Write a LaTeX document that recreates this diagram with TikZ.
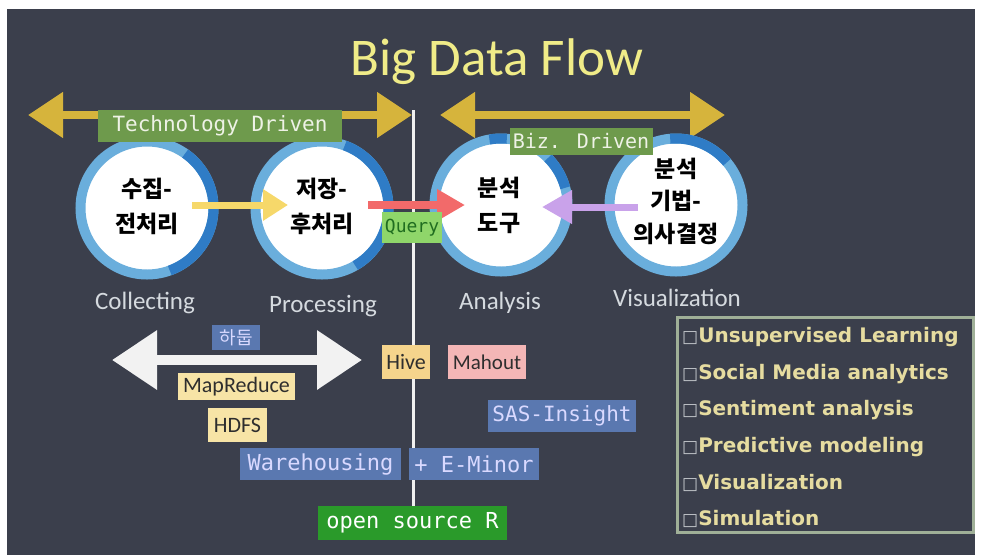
\documentclass[tikz,border=0pt]{standalone}
\usepackage{fontspec}
\setmainfont{Carlito}
\newfontfamily\krfont{Noto Sans CJK KR}
\newfontfamily\chalk{DejaVu Sans Mono}
\newfontfamily\listfont{DejaVu Sans}
\usetikzlibrary{arrows.meta,calc}
\definecolor{slate}{HTML}{3B3F4C}
\definecolor{gold}{HTML}{D6B43C}
\definecolor{tagGreen}{HTML}{6E9A4C}
\definecolor{ringLight}{HTML}{6AAEDC}
\definecolor{ringDark}{HTML}{2F7CC6}
\definecolor{titleYellow}{HTML}{F0EC88}
\definecolor{labelGrey}{HTML}{D5DADF}
\definecolor{queryGreen}{HTML}{8FD66A}
\definecolor{hiveYellow}{HTML}{F5D48C}
\definecolor{paleYellow}{HTML}{F7E4A6}
\definecolor{pinkBox}{HTML}{F4B6B6}
\definecolor{blueBox}{HTML}{5A78B0}
\definecolor{rGreen}{HTML}{2A9A2A}
\definecolor{listText}{HTML}{E6DCA0}
\definecolor{listBorder}{HTML}{A0B098}
\definecolor{bulletGrey}{HTML}{C4C8CC}
\definecolor{arrYellow}{HTML}{F6D86A}
\definecolor{arrRed}{HTML}{F26A6A}
\definecolor{arrPurple}{HTML}{C9A2EA}
\definecolor{chalkWhite}{HTML}{F2F2F2}
\definecolor{tagText}{HTML}{EEF2E6}
\definecolor{darkText}{HTML}{2E2E2E}
\tikzset{
  x=1pt, y=-1pt,
  goldarrow/.style={draw=gold, line width=8pt,
    arrows={Triangle[length=35pt,width=44pt]-Triangle[length=35pt,width=44pt]}},
  whitearrow/.style={draw=chalkWhite, line width=10pt,
    arrows={Triangle[length=45pt,width=57pt]-Triangle[length=45pt,width=57pt]}},
  flowarrow/.style={line width=7pt, arrows={-Triangle[length=28pt,width=30pt]}},
  disc/.style={circle, fill=white, minimum size=124pt, inner sep=0pt},
  ringbase/.style={draw=ringLight, line width=10pt},
  ringarc/.style={draw=ringDark, line width=10pt},
  krtext/.style={align=center, text=black, font=\krfont\bfseries\fontsize{23}{35}\selectfont},
  stagelabel/.style={anchor=base, text=labelGrey, font=\fontsize{25}{25}\selectfont},
  tagbox/.style={inner sep=0pt, anchor=center},
  chalktag/.style={tagbox, font=\chalk\fontsize{21}{21}\selectfont},
  sanstag/.style={tagbox, text=darkText, font=\fontsize{22}{22}\selectfont},
  listitem/.style={anchor=base west, inner sep=0pt, text=listText,
    font=\listfont\bfseries\fontsize{20}{20}\selectfont},
}
\newcommand{\bul}{{\mdseries\fontsize{17}{17}\selectfont\color{bulletGrey}□}}
\begin{document}
\begin{tikzpicture}
\useasboundingbox (0,0) rectangle (981,555);
\fill[white] (0,0) rectangle (981,555);
\fill[slate] (7,9) rectangle (975,555);

% title
\node[anchor=base, text=titleYellow, font=\fontsize{53}{53}\selectfont] (title) at (497,75) {Big Data Flow};

% divider
\coordinate (vtop) at (413,110);
\coordinate (vbot) at (413,506);
\draw[white!88!gray, line width=3pt] (vtop) -- (vbot);

% gold arrows
\coordinate (gl1) at (28,115);
\coordinate (gr1) at (412,115);
\draw[goldarrow] (gl1) -- (gr1);
\coordinate (gl2) at (440,115);
\coordinate (gr2) at (725,115);
\draw[goldarrow] (gl2) -- (gr2);

% circles
\node[disc] (c1) at (147,208) {};
\node[disc] (c2) at (322,208) {};
\node[disc] (c3) at (501,205) {};
\node[disc] (c4) at (676,205) {};
\draw[ringbase] (c1.center) circle[radius=66.5pt];
\draw[ringbase] (c2.center) circle[radius=66.5pt];
\draw[ringbase] (c3.center) circle[radius=66.5pt];
\draw[ringbase] (c4.center) circle[radius=66.5pt];
\draw[ringarc] (c1.center) ++(55:66.5pt) arc[start angle=55, end angle=-70, radius=66.5pt];
\draw[ringarc] (c2.center) ++(70:66.5pt) arc[start angle=70, end angle=-60, radius=66.5pt];
\draw[ringarc] (c3.center) ++(100:66.5pt) arc[start angle=100, end angle=85, radius=66.5pt];
\draw[ringarc] (c3.center) ++(45:66.5pt) arc[start angle=45, end angle=15, radius=66.5pt];
\draw[ringarc] (c4.center) ++(95:66.5pt) arc[start angle=95, end angle=40, radius=66.5pt];

\node[krtext] (t1) at (147,206) {수집-\\전처리};
\node[krtext] (t2) at (322,206) {저장-\\후처리};
\node[krtext] (t3) at (499,205) {분석\\도구};
\node[krtext, font=\krfont\bfseries\fontsize{23}{32.5}\selectfont] (t4) at (676,201) {분석\\기법-\\의사결정};

% driven labels
\node[chalktag, fill=tagGreen, text=tagText, minimum width=244pt, minimum height=32pt] (tech) at (220,126) {Technology Driven};
\node[chalktag, fill=tagGreen, text=tagText, minimum width=143pt, minimum height=27pt, font=\chalk\fontsize{20}{20}\selectfont] (biz) at (581,141) {Biz. Driven};

% flow arrows
\coordinate (a1s) at (192,205);
\coordinate (a1e) at (288,205);
\draw[flowarrow, draw=arrYellow, arrows={-Triangle[length=25pt,width=30pt]}] (a1s) -- (a1e);
\coordinate (a2s) at (368,205);
\coordinate (a2e) at (465,205);
\draw[flowarrow, draw=arrRed, line width=8pt] (a2s) -- (a2e);
\coordinate (a3s) at (638,207);
\coordinate (a3e) at (542,207);
\draw[flowarrow, draw=arrPurple, arrows={-Triangle[length=30pt,width=32pt]}] (a3s) -- (a3e);

\node[chalktag, fill=queryGreen, text=darkText!70!green, minimum width=60pt, minimum height=31pt, font=\chalk\fontsize{18}{18}\selectfont] (query) at (412,227.5) {Query};

% stage labels
\node[stagelabel] (l1) at (145,309) {Collecting};
\node[stagelabel] (l2) at (323,312) {Processing};
\node[stagelabel] (l3) at (500,309) {Analysis};
\node[stagelabel] (l4) at (677,306) {Visualization};

% hadoop arrow
\coordinate (wl) at (112,360);
\coordinate (wr) at (362,360);
\draw[whitearrow] (wl) -- (wr);

\node[tagbox, fill=blueBox, text=white!85!blue, minimum width=48pt, minimum height=25pt, font=\krfont\fontsize{18}{18}\selectfont] (hadoop) at (236,337.5) {하둡};
\node[sanstag, fill=paleYellow, minimum width=117pt, minimum height=27pt] (mapred) at (236.5,386.5) {MapReduce};
\node[sanstag, fill=paleYellow, minimum width=59pt, minimum height=34pt] (hdfs) at (237.5,425) {HDFS};
\node[sanstag, fill=hiveYellow, minimum width=48pt, minimum height=34pt] (hive) at (406,362) {Hive};
\node[sanstag, fill=pinkBox, minimum width=78pt, minimum height=34pt, font=\fontsize{21}{21}\selectfont] (mahout) at (487,362) {Mahout};
\node[chalktag, fill=blueBox, text=white!85!blue, minimum width=148pt, minimum height=32pt] (sas) at (562,416) {SAS-Insight};
\node[chalktag, fill=blueBox, text=white!85!blue, minimum width=161pt, minimum height=32pt, font=\chalk\fontsize{22}{22}\selectfont] (wh) at (320.5,464) {Warehousing};
\node[chalktag, fill=blueBox, text=white!85!blue, minimum width=130pt, minimum height=32pt, font=\chalk\fontsize{22}{22}\selectfont] (em) at (474,464) {+ E-Minor};
\node[chalktag, fill=rGreen, text=white, minimum width=189pt, minimum height=34pt, font=\chalk\fontsize{22}{22}\selectfont] (osr) at (412.5,523) {open source R};

% list box
\draw[listBorder, line width=3pt] (677,317) rectangle (973,532);
\node[listitem] (i1) at (682,342) {\bul Unsupervised Learning};
\node[listitem] (i2) at (682,379) {\bul Social Media analytics};
\node[listitem] (i3) at (682,415) {\bul Sentiment analysis};
\node[listitem] (i4) at (682,452) {\bul Predictive modeling};
\node[listitem] (i5) at (682,489) {\bul Visualization};
\node[listitem] (i6) at (682,525) {\bul Simulation};
\end{tikzpicture}
\end{document}
